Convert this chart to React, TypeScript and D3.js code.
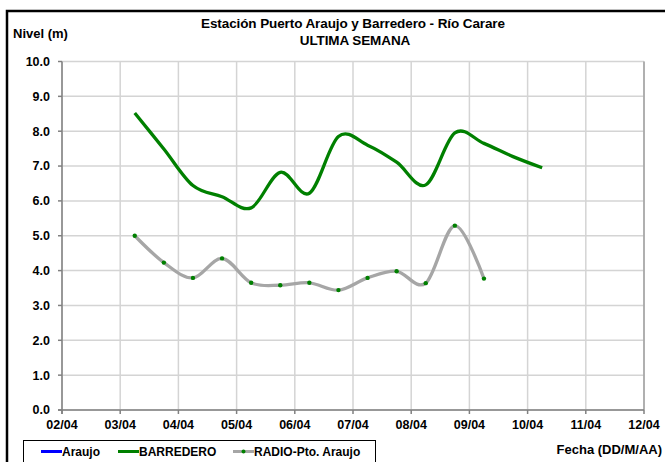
import React from "react";
import * as d3 from "d3";

const tickLabels = ["02/04", "03/04", "04/04", "05/04", "06/04", "07/04", "08/04", "09/04", "10/04", "11/04", "12/04"];
const yTicks = [0, 1, 2, 3, 4, 5, 6, 7, 8, 9, 10];

const barrederoTimes = [
  "03/04 06:00", "03/04 18:00", "04/04 06:00", "04/04 18:00", "05/04 06:00",
  "05/04 18:00", "06/04 06:00", "06/04 18:00", "07/04 06:00", "07/04 18:00",
  "08/04 06:00", "08/04 18:00", "09/04 06:00", "09/04 18:00", "10/04 06:00",
];
const barrederoValues = [8.52, 7.49, 6.44, 6.12, 5.8, 6.82, 6.22, 7.85, 7.6, 7.11, 6.46, 7.95, 7.65, 7.27, 6.95];

const radioTimes = [
  "03/04 06:00", "03/04 18:00", "04/04 06:00", "04/04 18:00", "05/04 06:00",
  "05/04 18:00", "06/04 06:00", "06/04 18:00", "07/04 06:00", "07/04 18:00",
  "08/04 06:00", "08/04 18:00", "09/04 06:00",
];
const radioValues = [5.0, 4.23, 3.79, 4.35, 3.65, 3.58, 3.65, 3.44, 3.79, 3.98, 3.64, 5.29, 3.77];

const legendItems = [
  { name: "Araujo", color: "#0000ff", marker: false },
  { name: "BARREDERO", color: "#008000", marker: false },
  { name: "RADIO-Pto. Araujo", color: "#a6a6a6", marker: true },
];

const parse = d3.timeParse("%d/%m %H:%M");

export default function App() {
  const W = 665, H = 462;
  const left = 62, right = 644, top = 61.5, bottom = 410;
  const tickDates = tickLabels.map((t) => parse(t + " 00:00") as Date);
  const x = d3.scaleTime().domain([tickDates[0], tickDates[tickDates.length - 1]]).range([left, right]);
  const y = d3.scaleLinear().domain([0, 10]).range([bottom, top]);
  const line = d3
    .line<[Date, number]>()
    .x((d) => x(d[0]))
    .y((d) => y(d[1]))
    .curve(d3.curveCardinal.tension(0));
  const bData: [Date, number][] = barrederoTimes.map((t, i) => [parse(t) as Date, barrederoValues[i]]);
  const rData: [Date, number][] = radioTimes.map((t, i) => [parse(t) as Date, radioValues[i]]);
  const font = "'Liberation Sans', Arial, sans-serif";
  const legendX = [41, 118, 233];

  return (
    <svg width={W} height={H} style={{ position: "absolute", left: 0, top: 0 }} fontFamily={font} fontWeight="bold">
      <rect x={0} y={0} width={W} height={H} fill="#fff" />
      <rect x={7} y={11} width={670} height={480} fill="none" stroke="#000" strokeWidth={2.5} />
      {/* grid */}
      {yTicks.map((v) => (
        <line key={"h" + v} x1={left} x2={right} y1={y(v)} y2={y(v)} stroke="#d4d4d4" strokeWidth={1.5} />
      ))}
      {tickDates.map((d, i) => (
        <line key={"v" + i} x1={x(d)} x2={x(d)} y1={top} y2={bottom} stroke="#d4d4d4" strokeWidth={1.5} />
      ))}
      <line x1={right} x2={right} y1={top} y2={bottom} stroke="#a0a0a0" strokeWidth={1.5} />
      {/* axes */}
      <line x1={left} x2={left} y1={top} y2={bottom + 4} stroke="#808080" strokeWidth={1.5} />
      <line x1={left - 4} x2={right} y1={bottom} y2={bottom} stroke="#808080" strokeWidth={1.5} />
      {yTicks.map((v) => (
        <g key={"yt" + v}>
          <line x1={left - 4} x2={left} y1={y(v)} y2={y(v)} stroke="#808080" strokeWidth={1.5} />
          <text x={50} y={y(v)} dy="0.35em" textAnchor="end" fontSize={12.5}>
            {v.toFixed(1)}
          </text>
        </g>
      ))}
      {tickDates.map((d, i) => (
        <g key={"xt" + i}>
          <line x1={x(d)} x2={x(d)} y1={bottom} y2={bottom + 4} stroke="#808080" strokeWidth={1.5} />
          <text x={x(d)} y={425} dy="0.35em" textAnchor="middle" fontSize={12.5}>
            {tickLabels[i]}
          </text>
        </g>
      ))}
      {/* series */}
      <path d={line(bData) || ""} fill="none" stroke="#008000" strokeWidth={3.3} />
      <path d={line(rData) || ""} fill="none" stroke="#a6a6a6" strokeWidth={3.3} />
      {rData.map((d, i) => (
        <circle key={"m" + i} cx={x(d[0])} cy={y(d[1])} r={2.2} fill="#008000" />
      ))}
      {/* titles */}
      <text x={353} y={23} dy="0.35em" textAnchor="middle" fontSize={13.5} letterSpacing={-0.1}>
        Estación Puerto Araujo y Barredero - Río Carare
      </text>
      <text x={355} y={40} dy="0.35em" textAnchor="middle" fontSize={13.5} letterSpacing={-0.1}>
        ULTIMA SEMANA
      </text>
      <text x={13} y={33} dy="0.35em" fontSize={13}>
        Nivel (m)
      </text>
      <text x={662} y={449} dy="0.35em" textAnchor="end" fontSize={13}>
        Fecha (DD/M/AA)
      </text>
      {/* legend */}
      <rect x={23.5} y={440.5} width={352} height={30} fill="#fff" stroke="#000" strokeWidth={1} />
      {legendItems.map((it, i) => (
        <g key={it.name}>
          <line x1={legendX[i]} x2={legendX[i] + 21} y1={451.5} y2={451.5} stroke={it.color} strokeWidth={3} />
          {it.marker && <circle cx={legendX[i] + 10.5} cy={451.5} r={2} fill="#008000" />}
          <text x={legendX[i] + 21} y={452} dy="0.35em" fontSize={12}>
            {it.name}
          </text>
        </g>
      ))}
    </svg>
  );
}
